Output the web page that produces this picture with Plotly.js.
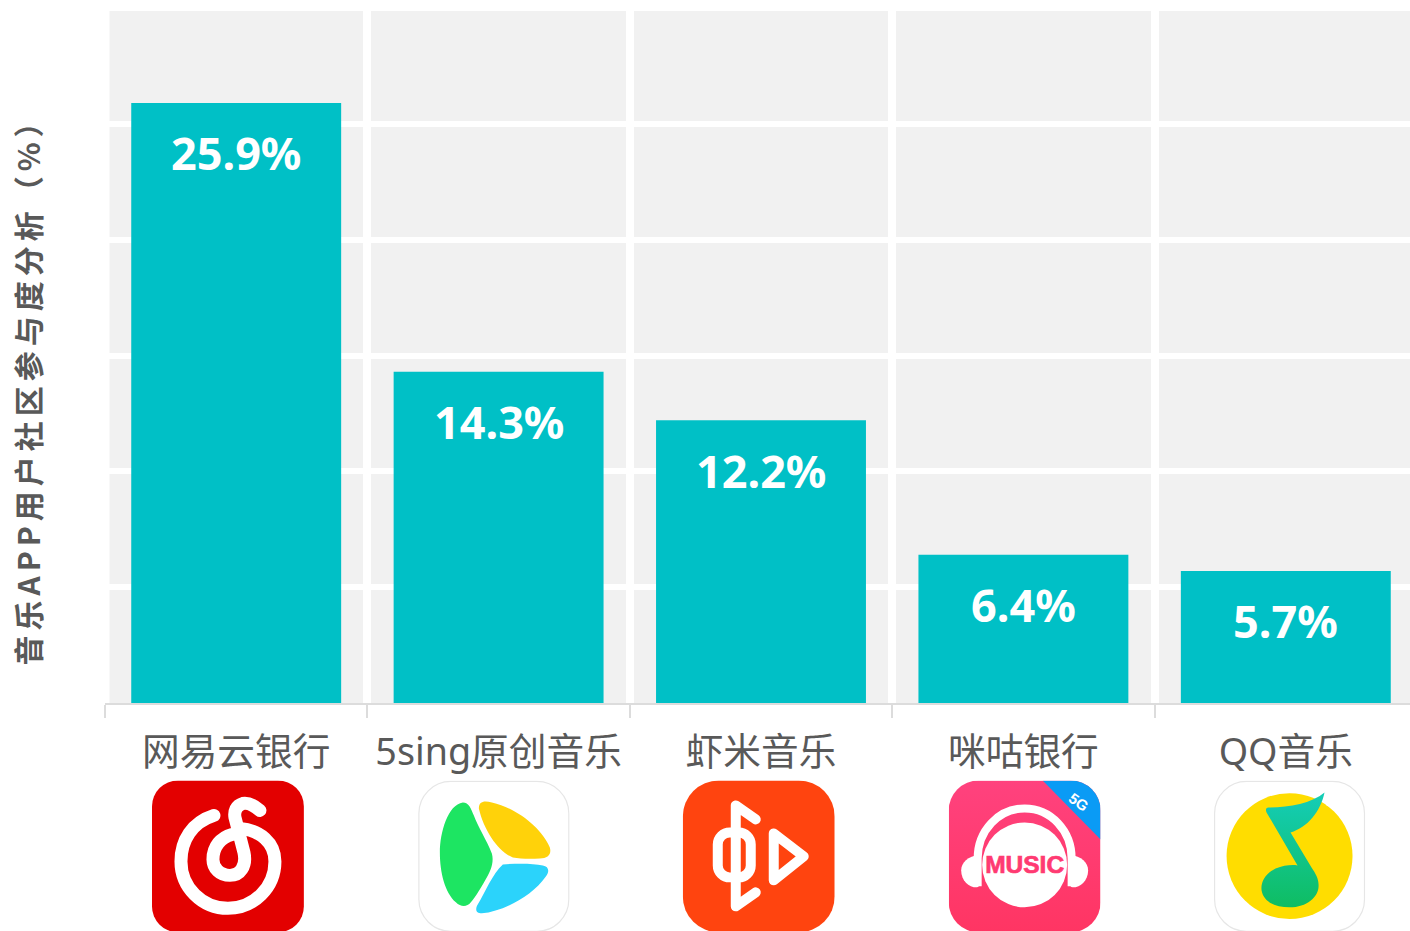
<!DOCTYPE html>
<html><head><meta charset="utf-8">
<script src="https://cdn.plot.ly/plotly-3.0.1.min.js"></script>
<style>
html,body{margin:0;padding:0;background:#fff;overflow:hidden}
#chart{width:1410px;height:931px}
.ytitle{letter-spacing:5px}
.g-ytitle{transform:translate(4px,28.5px)}
</style></head><body><div id="chart"></div>
<script>
const categories = ['网易云银行','5sing原创音乐','虾米音乐','咪咕银行','QQ音乐'];
const shares = [25.9,14.3,12.2,6.4,5.7];
const yTitle = '音乐APP用户社区参与度分析（%）';
const barColor = '#00c0c6';
const textFont = '"Noto Sans","Noto Sans CJK SC",sans-serif';
const titleFont = '"Noto Sans CJK SC","Noto Sans",sans-serif';

const W=1410,H=931,L=104.5,T=8,B=703.5;
const frame=(fill,stroke)=>`<rect x="1" y="1" width="150" height="150" rx="32" fill="${fill}" stroke="${stroke}" stroke-width="1.2"/>`;
const icon1=`<rect width="152" height="152" rx="26" fill="#e30000"/>
<path d="M62 35C40 42 29 60 29 81A47 47 0 0 0 123 81C123 62 108 50 88 48" fill="none" stroke="#fff" stroke-width="13" stroke-linecap="round"/>
<path d="M108 30C102 25 96 22 91 23C84 25 82 31 83 37L92 72C95 86 88 95 78 95C68 95 61 88 61 79C61 66 69 57 80 54" fill="none" stroke="#fff" stroke-width="13" stroke-linecap="round"/>`;
const icon2=frame('#fff','#e6e6e6')+`
<path d="M45 22C51 22 53 28 56 35C60 46 69 60 74 73C76 80 74 88 70 95C64 106 58 116 53 122C49 127 43 127 38 122C27 112 22 92 22 72C22 52 30 24 45 22Z" fill="#1de562"/>
<path d="M61 28C61 21 66 20 74 22C100 28 124 48 132 67C134 74 130 78 122 78C110 79 102 78 95 77C81 72 66 50 61 28Z" fill="#ffd20a"/>
<path d="M85 84C100 83 115 83 125 85C131 86 132 91 128 96C114 116 85 131 64 133C58 133 57 129 60 124C67 112 75 93 85 84Z" fill="#2bd3fb"/>`;
const icon3=`<rect width="152" height="152" rx="36" fill="#ff440f"/>
<g fill="none" stroke="#fff" stroke-width="10" stroke-linecap="round" stroke-linejoin="round">
<path d="M73 39L53 25V126L73 112"/>
<rect x="35" y="52" width="33" height="45" rx="12"/>
<path d="M91 53V100L121 76Z"/></g>`;
const icon4=`<defs><linearGradient id="p" x1="0" y1="0" x2="0" y2="1"><stop offset="0" stop-color="#ff427e"/><stop offset="1" stop-color="#ff3563"/></linearGradient><clipPath id="c"><rect width="152" height="152" rx="30"/></clipPath></defs>
<g clip-path="url(#c)"><rect width="152" height="152" fill="url(#p)"/>
<path d="M94 0H152V59Z" fill="#0a9bf5"/></g>
<path d="M29 106V78C29 50 50 28 76 28C102 28 123 50 123 78V106" fill="none" stroke="#fff" stroke-width="8"/>
<path d="M31 74C19 76 12.500 82 12.500 90C12.500 100 20 107 28 107C30 107 31 105 31 103Z" fill="#fff"/>
<path d="M121 74C133 76 139.500 82 139.500 90C139.500 100 132 107 124 107C122 107 121 105 121 103Z" fill="#fff"/>
<circle cx="76" cy="84.500" r="42.500" fill="#fff"/>
<text x="76" y="92.500" text-anchor="middle" font-family="Liberation Sans" font-weight="700" font-size="24" fill="#ff3a72" stroke="#ff3a72" stroke-width=".7" textLength="79" lengthAdjust="spacingAndGlyphs">MUSIC</text>
<text transform="translate(127,26) rotate(35)" text-anchor="middle" font-family="Liberation Sans" font-weight="700" font-size="15" fill="#fff">5G</text>`;
const icon5=frame('#fff','#e6e6e6')+`
<defs><linearGradient id="g" x1="0" y1="0" x2="0" y2="1"><stop offset="0" stop-color="#14cdb8"/><stop offset="1" stop-color="#0fbd62"/></linearGradient></defs>
<circle cx="76" cy="75.700" r="63" fill="#ffdd00"/>
<path d="M111 14L113 25L118 27L116 14Z" fill="#fff"/>
<path d="M111 12C98 23 75 27 55 27C52 27 52 30 53 32L84 85C78 84 70 85 62 88C52 93 47 101 48 110C50 122 62 127 76 127C94 127 106 116 105 104C105 98 102 93 98 87L77 52C94 47 107 31 111 12Z" fill="url(#g)"/>`;
const svgs=[icon1,icon2,icon3,icon4,icon5];
const iconLeft=[151.5,417.5,682.5,948.5,1213.5];
const uri=s=>'data:image/svg+xml;charset=utf-8,'+encodeURIComponent(`<svg xmlns="http://www.w3.org/2000/svg" width="456" height="456" viewBox="0 0 152 152">${s}</svg>`);
const images=svgs.map((s,i)=>({source:uri(s),xref:'paper',yref:'paper',
  x:(iconLeft[i]-L)/(W-L),y:(B-781)/(B-T),sizex:152/(W-L),sizey:152/(B-T),
  xanchor:'left',yanchor:'top',sizing:'stretch',layer:'above'}));

const annotations=categories.map((c,i)=>({x:c,y:shares[i],xref:'x',yref:'y',text:shares[i].toFixed(1)+'%',
  showarrow:false,yshift:-50,yanchor:'middle',xanchor:'center',
  font:{family:textFont,size:45,color:'#fff',weight:700}}));

// white strips where the outermost grid lines fall on the plot edge
const shapes=[
  {type:'rect',layer:'below',xref:'paper',yref:'paper',x0:0,x1:4.5/(W-L),y0:0,y1:1,fillcolor:'#fff',line:{width:0}},
  {type:'rect',layer:'below',xref:'paper',yref:'paper',x0:0,x1:1,y0:1-3/(B-T),y1:1,fillcolor:'#fff',line:{width:0}}
];

Plotly.newPlot('chart',[{type:'bar',x:categories,y:shares,width:0.8,marker:{color:barColor},hoverinfo:'skip'}],{
  width:W,height:H,autosize:false,showlegend:false,
  paper_bgcolor:'#fff',plot_bgcolor:'#f1f1f1',
  margin:{l:L,r:0,t:T,b:H-B,pad:0},
  xaxis:{type:'category',categoryorder:'array',categoryarray:categories,range:[-0.5,4.4733],
    tickson:'boundaries',showgrid:true,gridcolor:'#fff',gridwidth:8,
    showline:true,linecolor:'#dcdcdc',linewidth:2,ticks:'outside',ticklen:13,tickcolor:'#dcdcdc',tickwidth:2,
    tickangle:0,ticklabelstandoff:15,tickfont:{family:textFont,size:37.7,color:'#595959'},zeroline:false,fixedrange:true},
  yaxis:{range:[0,30],dtick:5,showgrid:true,gridcolor:'#fff',gridwidth:6,zeroline:false,showline:false,
    ticks:'',showticklabels:false,fixedrange:true,
    title:{text:yTitle,standoff:58,font:{family:titleFont,size:30,color:'#595959',weight:700}}},
  annotations,images,shapes
},{displayModeBar:false,staticPlot:true});
</script></body></html>
